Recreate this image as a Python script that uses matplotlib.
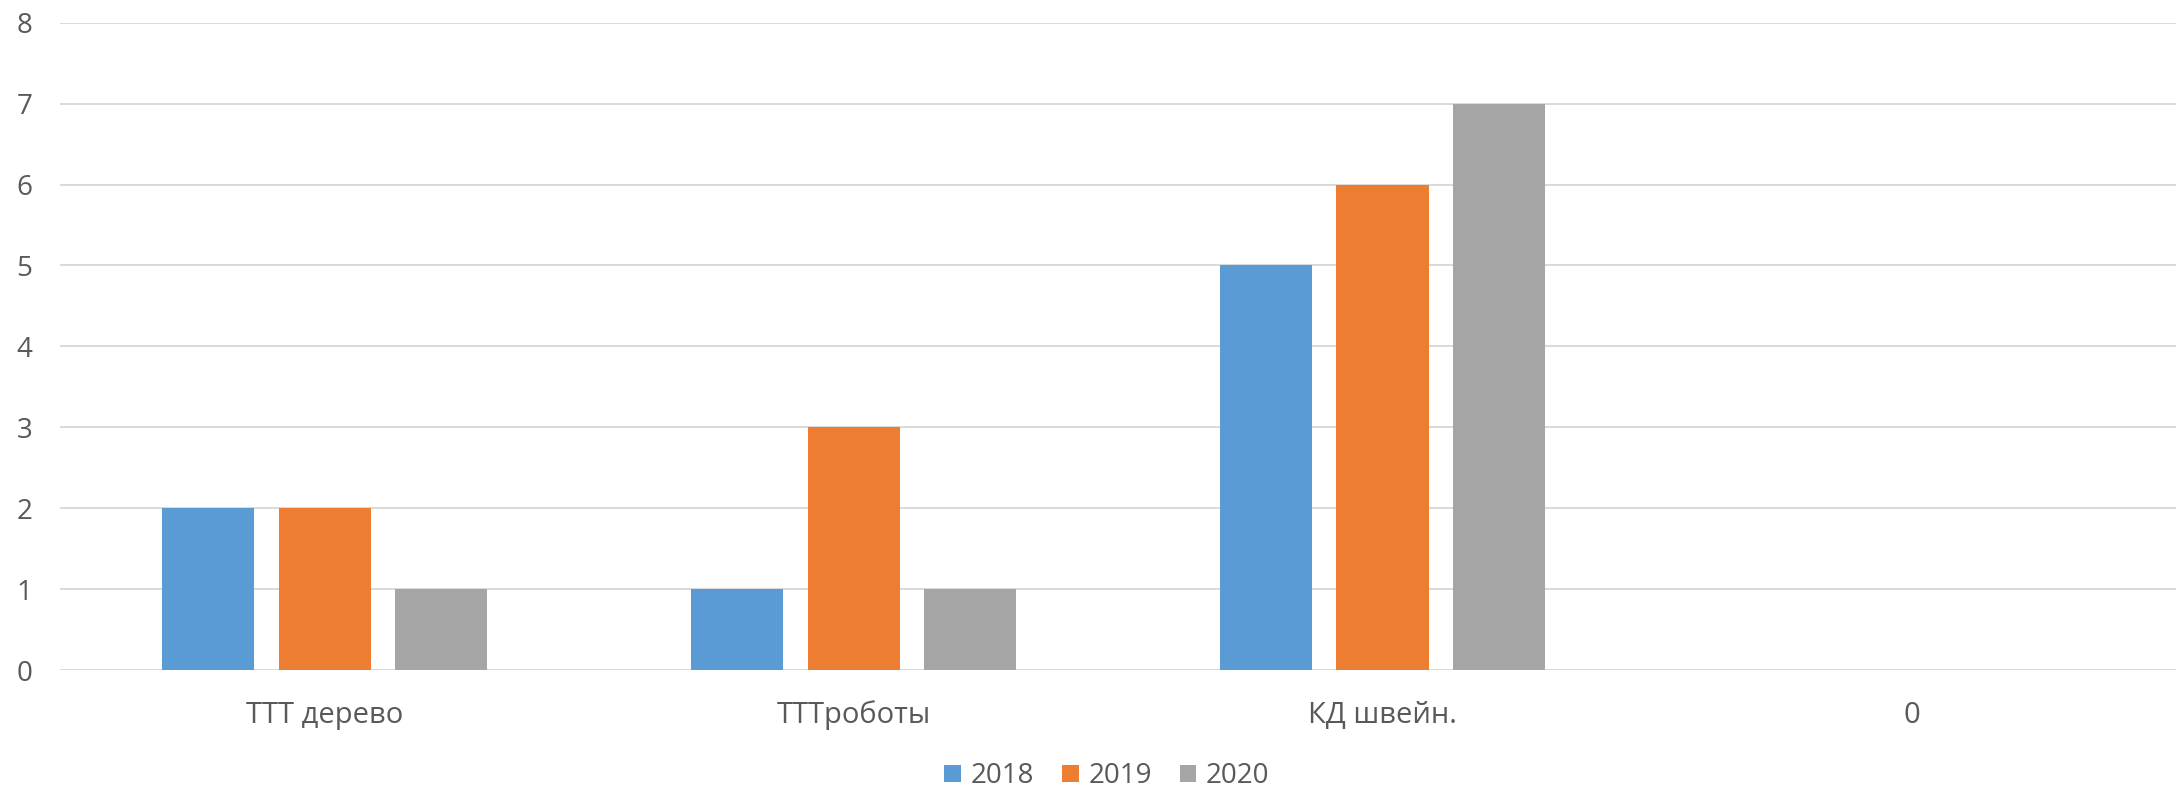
import matplotlib.pyplot as plt
import numpy as np
from matplotlib.patches import Patch

# Данные с диаграммы
categories = ['ТТТ дерево', 'ТТТроботы', 'КД швейн.', '0']
years = ['2018', '2019', '2020']
values_2018 = [2, 1, 5, 0]
values_2019 = [2, 3, 6, 0]
values_2020 = [1, 1, 7, 0]
yticks = [0, 1, 2, 3, 4, 5, 6, 7, 8]

colors = ['#5B9BD5', '#ED7D31', '#A5A5A5']
text_color = '#595959'
grid_color = '#D9D9D9'

plt.rcParams['font.family'] = ['Open Sans', 'DejaVu Sans']

fig = plt.figure(figsize=(21.83, 7.89), dpi=100)
ax = fig.add_axes([0.0275, 0.1508, 0.9693, 0.8204])

x = np.arange(len(categories))
width = 0.174
step = 0.221
series = [values_2018, values_2019, values_2020]
for i, vals in enumerate(series):
    ax.bar(x + (i - 1) * step, vals, width=width, color=colors[i], label=years[i], zorder=3)

ax.set_xlim(-0.5, len(categories) - 0.5)
ax.set_ylim(0, 8)
ax.set_yticks(yticks)
ax.set_xticks(x)
ax.set_xticklabels(categories)

# Сетка
for y in yticks:
    ax.axhline(y, color=grid_color, linewidth=1.4, zorder=1)

for s in ax.spines.values():
    s.set_visible(False)
ax.tick_params(axis='y', length=0, labelsize=20, colors=text_color, pad=20)
ax.tick_params(axis='x', length=0, labelsize=21, colors=text_color, pad=22)

handles = [Patch(facecolor=c, edgecolor='none') for c in colors]
fig.legend(handles, years, loc='center', bbox_to_anchor=(0.507, 0.016), ncol=3,
           frameon=False, fontsize=20, labelcolor=text_color,
           handlelength=0.6, handleheight=0.6, handletextpad=0.35, columnspacing=1.0)

fig.savefig('out.png', dpi=100)
plt.close(fig)
